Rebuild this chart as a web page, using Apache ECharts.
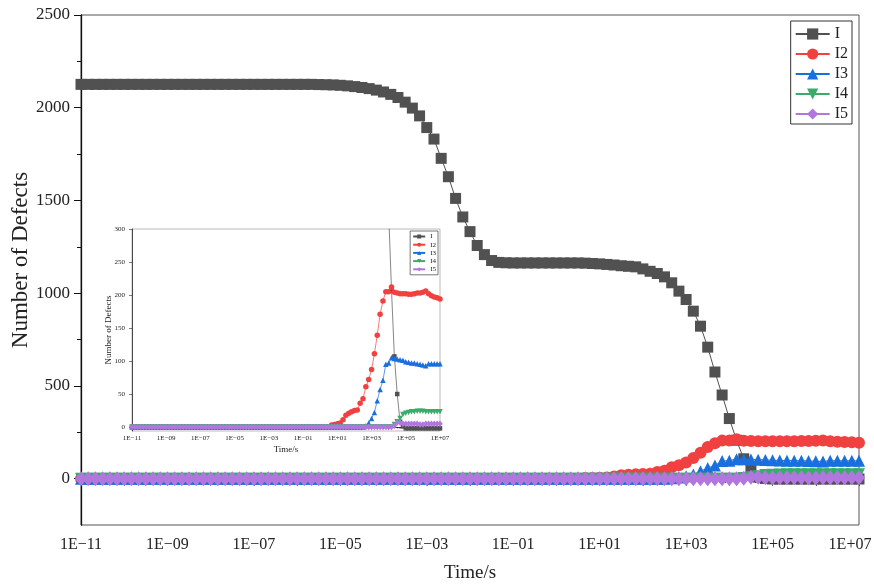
<!DOCTYPE html>
<html>
<head>
<meta charset="utf-8">
<script src="https://cdn.jsdelivr.net/npm/echarts@6/dist/echarts.min.js"></script>
<style>
  html, body { margin: 0; padding: 0; background: #fff; }
  #chart { width: 874px; height: 584px; }
</style>
</head>
<body>
<div id="chart"></div>
<script>
// sample times: 6 points per decade, 1E-11 .. 1E+07
const times = [];
for (let k = 0; k <= 108; k++) times.push(Math.pow(10, -11 + k / 6));

const names = ['I', 'I2', 'I3', 'I4', 'I5'];

const defI = [
  2126, 2126, 2126, 2126, 2126, 2126, 2126, 2126, 2126, 2126, 2126, 2126,
  2126, 2126, 2126, 2126, 2126, 2126, 2126, 2126, 2126, 2126, 2126, 2126,
  2126, 2126, 2126, 2126, 2126, 2126, 2126, 2126, 2126,
  2125, 2124, 2123, 2121, 2118, 2114, 2109, 2103, 2095, 2085, 2072, 2055,
  2030, 1998, 1956, 1893, 1831, 1727, 1628, 1511, 1411, 1332, 1257, 1208,
  1176, 1166, 1164,
  1163, 1163, 1163, 1163, 1163, 1163, 1163, 1163, 1163, 1163,
  1162, 1160, 1158, 1155, 1152, 1148,
  1145, 1142, 1131, 1118, 1106, 1088, 1056, 1011, 966, 903, 822, 709,
  575, 451, 324,
  207, 107, 50, 8, 1,
  -2, -2, -2, -2, -2, -2, -2, -2, -2, -2, -2, -2, -2
];
const defI2 = [
  0, 0, 0, 0, 0, 0, 0, 0, 0, 0, 0, 0, 0, 0, 0, 0, 0, 0, 0, 0,
  0, 0, 0, 0, 0, 0, 0, 0, 0, 0, 0, 0, 0, 0, 0, 0, 0, 0, 0, 0,
  0, 0, 0, 0, 0, 0, 0, 0, 0, 0, 0, 0, 0, 0, 0, 0, 0, 0, 0, 0,
  0, 0, 0, 0, 0, 0, 0, 0, 0, 0,
  3, 4, 5, 6, 11, 18, 21, 23, 25, 26,
  36, 43, 61, 72, 87, 111, 139, 171, 191, 205,
  205, 212, 204, 203, 202, 202, 202, 201, 201, 202, 203, 203, 204, 206,
  202, 199, 197, 196, 194
];
const defI3 = [
  0, 0, 0, 0, 0, 0, 0, 0, 0, 0, 0, 0, 0, 0, 0, 0, 0, 0, 0, 0,
  0, 0, 0, 0, 0, 0, 0, 0, 0, 0, 0, 0, 0, 0, 0, 0, 0, 0, 0, 0,
  0, 0, 0, 0, 0, 0, 0, 0, 0, 0, 0, 0, 0, 0, 0, 0, 0, 0, 0, 0,
  0, 0, 0, 0, 0, 0, 0, 0, 0, 0, 0, 0, 0, 0, 0, 0, 0, 0, 0, 0,
  0, 0,
  2, 6, 13, 22, 40, 57, 71, 95, 97,
  105, 104, 103, 102, 101, 99, 98, 97, 97, 96, 95, 94, 93, 96, 96, 96,
  96, 96
];
const defI4 = [
  0, 0, 0, 0, 0, 0, 0, 0, 0, 0, 0, 0, 0, 0, 0, 0, 0, 0, 0, 0,
  0, 0, 0, 0, 0, 0, 0, 0, 0, 0, 0, 0, 0, 0, 0, 0, 0, 0, 0, 0,
  0, 0, 0, 0, 0, 0, 0, 0, 0, 0, 0, 0, 0, 0, 0, 0, 0, 0, 0, 0,
  0, 0, 0, 0, 0, 0, 0, 0, 0, 0, 0, 0, 0, 0, 0, 0, 0, 0, 0, 0,
  0, 0, 0, 0, 0, 0, 0, 0, 0, 0, 0, 0,
  4, 8, 13, 19, 21, 22,
  23, 23, 24, 24, 24, 23, 23, 23, 23, 23, 23
];
const defI5 = [
  0, 0, 0, 0, 0, 0, 0, 0, 0, 0, 0, 0, 0, 0, 0, 0, 0, 0, 0, 0,
  0, 0, 0, 0, 0, 0, 0, 0, 0, 0, 0, 0, 0, 0, 0, 0, 0, 0, 0, 0,
  0, 0, 0, 0, 0, 0, 0, 0, 0, 0, 0, 0, 0, 0, 0, 0, 0, 0, 0, 0,
  0, 0, 0, 0, 0, 0, 0, 0, 0, 0, 0, 0, 0, 0, 0, 0, 0, 0, 0, 0,
  0, 0, 0, 0, 0, 0, 0, 0, 0, 0, 0, 0,
  2, 7, 7, 5, 5, 5, 5, 5, 5, 4, 4, 5, 5, 5, 5, 5, 5
];

const mainYLabels = [0, 500, 1000, 1500, 2000, 2500];
const mainYMinor = [250, 750, 1250, 1750, 2250];
const insetYLabels = [0, 50, 100, 150, 200, 250, 300];

const FONT = '"Liberation Serif", "Times New Roman", serif';
const TXT = '#222';
const colors = ['#515151', '#F14040', '#1A6FDF', '#37AD6B', '#B177DE'];
const symbols = ['rect', 'circle', 'triangle', 'triangle', 'diamond'];
const rotates = [0, 0, 0, 180, 0];
const bigSizes = [11, 12, 12, 12, [12, 15]];
const smallSizes = [4.5, 5.5, 5.5, 5.5, [5.5, 6.5]];
const allValues = [defI, defI2, defI3, defI4, defI5];

function expText(e) {
  return '1E' + (e < 0 ? '\u2212' : '+') + String(Math.abs(e)).padStart(2, '0');
}
// labels on every other decade; the last one of the big axis nudged left like the original
function expLabelBig(v) {
  const e = Math.round(Math.log10(v));
  if (Math.abs(e) % 2 !== 1) return '';
  return e === 7 ? '{r|' + expText(e) + '}' : expText(e);
}
function expLabelSmall(v) {
  const e = Math.round(Math.log10(v));
  return Math.abs(e) % 2 === 1 ? expText(e) : '';
}
const plain = v => String(v);

function logAxis(grid, big) {
  return {
    type: 'log', logBase: 10, gridIndex: grid, min: 1e-11, max: 1e7, interval: 1,
    name: 'Time/s', nameLocation: 'middle', nameGap: big ? 38.5 : 14.5, nameMoveOverlap: false,
    nameTextStyle: { fontFamily: FONT, fontSize: big ? 19 : 9, color: TXT },
    axisLine: { lineStyle: { color: '#111', width: big ? 1.3 : 0.8 } },
    axisTick: { length: big ? 7 : 3, lineStyle: { color: '#111', width: big ? 1 : 0.6 } },
    minorTick: { show: true, splitNumber: 9, length: big ? 4 : 1.5, lineStyle: { color: '#111', width: big ? 1 : 0.5 } },
    axisLabel: {
      formatter: big ? expLabelBig : expLabelSmall,
      fontFamily: FONT, fontSize: big ? 16 : 7, color: TXT, margin: big ? 12 : 4,
      rich: { r: { fontFamily: FONT, fontSize: 16, color: TXT, padding: [0, 18, 0, 0] } }
    },
    splitLine: { show: false }
  };
}

const series = [];
names.forEach((n, i) => {
  const data = times.map((t, k) => [t, allValues[i][k]]);
  const base = {
    name: n, type: 'line', data: data,
    symbol: symbols[i], symbolRotate: rotates[i],
    itemStyle: { color: colors[i] },
    animation: false, z: 2 + i
  };
  series.push(Object.assign({}, base, {
    xAxisIndex: 0, yAxisIndex: 0,
    symbolSize: bigSizes[i],
    lineStyle: { width: 1, color: colors[i] }
  }));
  series.push(Object.assign({}, base, {
    xAxisIndex: 1, yAxisIndex: 2,
    symbolSize: smallSizes[i],
    lineStyle: { width: 0.7, color: colors[i] }
  }));
});

const chart = echarts.init(document.getElementById('chart'));
chart.setOption({
  backgroundColor: '#fff',
  animation: false,
  grid: [
    { left: 81, right: 15, top: 15, bottom: 59, outerBoundsMode: 'none', containLabel: false,
      show: true, borderColor: '#555', borderWidth: 1 },
    { left: 132, right: 434, top: 229, bottom: 153, outerBoundsMode: 'none', containLabel: false,
      show: true, borderColor: '#aaa', borderWidth: 0.8, backgroundColor: '#fff' }
  ],
  legend: [
    {
      data: names, orient: 'vertical', right: 22, top: 21,
      itemWidth: 34, itemHeight: 14, itemGap: 4, padding: [5, 4, 2, 4],
      borderColor: '#333', borderWidth: 1, selectedMode: false,
      textStyle: { fontFamily: FONT, fontSize: 16, lineHeight: 16, color: TXT }
    },
    {
      data: names, orient: 'vertical', right: 436, top: 231,
      itemWidth: 12, itemHeight: 5, itemGap: 1.2, padding: [2, 2, 2, 2],
      borderColor: '#555', borderWidth: 0.8, selectedMode: false,
      textStyle: { fontFamily: FONT, fontSize: 7, lineHeight: 7, color: TXT }
    }
  ],
  xAxis: [logAxis(0, true), logAxis(1, false)],
  yAxis: [
    {
      type: 'value', gridIndex: 0, min: -250, max: 2500, interval: 250, position: 'left',
      name: 'Number of Defects', nameLocation: 'middle', nameGap: 49, nameMoveOverlap: false,
      nameTextStyle: { fontFamily: FONT, fontSize: 23, color: TXT, padding: [0, 0, 0, 20] },
      axisLine: { show: true, lineStyle: { color: '#111', width: 1.3 } },
      axisTick: { show: true, customValues: mainYLabels, length: 7, lineStyle: { color: '#111' } },
      axisLabel: { customValues: mainYLabels, formatter: plain, fontFamily: FONT, fontSize: 17, color: TXT, margin: 11 },
      splitLine: { show: false }
    },
    {
      type: 'value', gridIndex: 0, min: -250, max: 2500, interval: 250, position: 'left',
      axisLine: { show: false },
      axisTick: { show: true, customValues: mainYMinor, length: 4, lineStyle: { color: '#111' } },
      axisLabel: { show: false },
      splitLine: { show: false }
    },
    {
      type: 'value', gridIndex: 1, min: -6, max: 300, position: 'left',
      name: 'Number of Defects', nameLocation: 'middle', nameGap: 18.5, nameMoveOverlap: false,
      nameTextStyle: { fontFamily: FONT, fontSize: 9, color: TXT },
      axisLine: { show: true, lineStyle: { color: '#222', width: 0.8 } },
      axisTick: { show: true, customValues: insetYLabels, length: 3, lineStyle: { color: '#222', width: 0.6 } },
      axisLabel: { customValues: insetYLabels, formatter: plain, fontFamily: FONT, fontSize: 7, color: TXT, margin: 7 },
      splitLine: { show: false }
    }
  ],
  series: series
});
</script>
</body>
</html>
